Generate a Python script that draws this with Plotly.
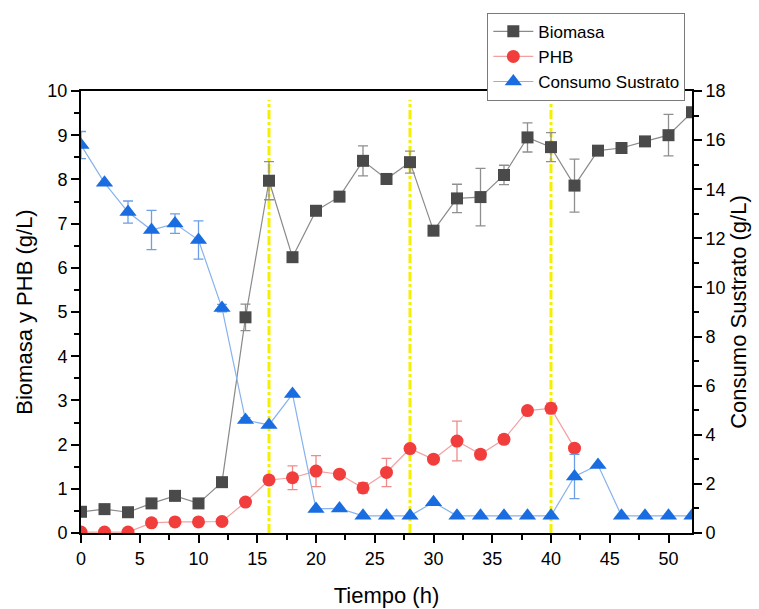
import plotly.graph_objects as go

# Sampling times (h)
tiempo = [0, 2, 4, 6, 8, 10, 12, 14, 16, 18, 20, 22, 24, 26, 28, 30, 32, 34, 36, 38, 40, 42, 44, 46, 48, 50, 52]

# Biomass (g/L) and standard deviation
biomasa = [0.48, 0.54, 0.47, 0.67, 0.84, 0.67, 1.15, 4.88, 7.97, 6.24, 7.29, 7.61, 8.42, 8.01, 8.39,
           6.84, 7.57, 7.6, 8.1, 8.95, 8.73, 7.86, 8.65, 8.71, 8.86, 9.0, 9.52]
biomasa_err = [0, 0, 0, 0, 0, 0, 0, 0.3, 0.43, 0, 0, 0, 0.34, 0.12, 0.25,
               0, 0.32, 0.65, 0.22, 0.33, 0.33, 0.6, 0.08, 0.1, 0, 0.47, 0]

# PHB (g/L) and standard deviation
tiempo_phb = [0, 2, 4, 6, 8, 10, 12, 14, 16, 18, 20, 22, 24, 26, 28, 30, 32, 34, 36, 38, 40, 42]
phb = [0.02, 0.02, 0.02, 0.23, 0.25, 0.25, 0.26, 0.7, 1.2, 1.25, 1.4, 1.33, 1.02, 1.37, 1.91,
       1.67, 2.08, 1.78, 2.12, 2.77, 2.82, 1.92]
phb_err = [0, 0, 0, 0, 0, 0, 0, 0, 0, 0.27, 0.35, 0, 0.12, 0.32, 0,
           0, 0.45, 0.1, 0.1, 0, 0.12, 0]

# Substrate (g/L) and standard deviation
sustrato = [15.8, 14.26, 13.07, 12.34, 12.6, 11.93, 9.16, 4.6, 4.4, 5.66, 0.98, 1.0, 0.7, 0.7, 0.7,
            1.25, 0.7, 0.7, 0.7, 0.7, 0.7, 2.3, 2.77, 0.7, 0.7, 0.7, 0.7]
sustrato_err = [0.55, 0, 0.45, 0.8, 0.4, 0.78, 0.15, 0.1, 0, 0, 0, 0, 0, 0, 0,
                0, 0, 0, 0, 0, 0, 0.9, 0, 0, 0, 0, 0]

# Phase-change marks (h)
cortes = [16, 28, 40]

FONT = "Arial, Liberation Sans, sans-serif"

fig = go.Figure()

fig.add_trace(go.Scatter(
    x=tiempo, y=biomasa, name="Biomasa", mode="lines+markers",
    line=dict(color="#8a8a8a", width=1.2),
    marker=dict(symbol="square", size=12, color="#4a4a4a"),
    error_y=dict(type="data", array=biomasa_err, visible=True, color="#8f8f8f", thickness=1.3, width=5),
))

fig.add_trace(go.Scatter(
    x=tiempo_phb, y=phb, name="PHB", mode="lines+markers",
    line=dict(color="#f4a0a0", width=1.2),
    marker=dict(symbol="circle", size=13, color="#f23d3d"),
    error_y=dict(type="data", array=phb_err, visible=True, color="#f08a8a", thickness=1.3, width=5),
))

fig.add_trace(go.Scatter(
    x=tiempo, y=sustrato, name="Consumo Sustrato", mode="lines+markers", yaxis="y2",
    line=dict(color="#86b2ee", width=1.2),
    marker=dict(symbol="triangle-up", size=15, color="#1a6de0"),
    error_y=dict(type="data", array=sustrato_err, visible=True, color="#6d9fe6", thickness=1.3, width=5),
))

for c in cortes:
    fig.add_shape(type="line", xref="x", yref="y", x0=c, x1=c, y0=0, y1=9.8,
                  line=dict(color="#f5f000", width=3, dash="dashdot"), layer="below")

axis_common = dict(
    showline=True, linecolor="black", linewidth=2, ticks="outside", tickwidth=2,
    ticklen=8, tickcolor="black", showgrid=False, zeroline=False, automargin=False,
    tickfont=dict(family=FONT, size=18, color="black"),
)
minor_common = dict(ticks="outside", ticklen=5, tickwidth=2, tickcolor="black")

fig.update_layout(
    width=759, height=609,
    margin=dict(l=81, r=67, t=91, b=76),
    paper_bgcolor="white", plot_bgcolor="white",
    font=dict(family=FONT, color="black"),
    xaxis=dict(range=[0, 52], dtick=5, mirror=True,
               minor=dict(dtick=2.5, **minor_common),
               title=dict(text="Tiempo (h)", font=dict(family=FONT, size=22), standoff=20),
               **axis_common),
    yaxis=dict(range=[0, 10], dtick=1,
               minor=dict(dtick=0.5, **minor_common),
               title=dict(text="Biomasa y PHB (g/L)", font=dict(family=FONT, size=22), standoff=9),
               **axis_common),
    yaxis2=dict(range=[0, 18], dtick=2, overlaying="y", side="right",
                minor=dict(dtick=1, **minor_common),
                title=dict(text="Consumo Sustrato (g/L)", font=dict(family=FONT, size=22), standoff=4),
                **axis_common),
    legend=dict(x=0.665, y=1.177, xanchor="left", yanchor="top",
                bgcolor="white", bordercolor="#7a7a7a", borderwidth=1,
                font=dict(family=FONT, size=17, color="black"),
                tracegroupgap=0, itemwidth=40),
    showlegend=True,
)

fig.write_html("out.html")
